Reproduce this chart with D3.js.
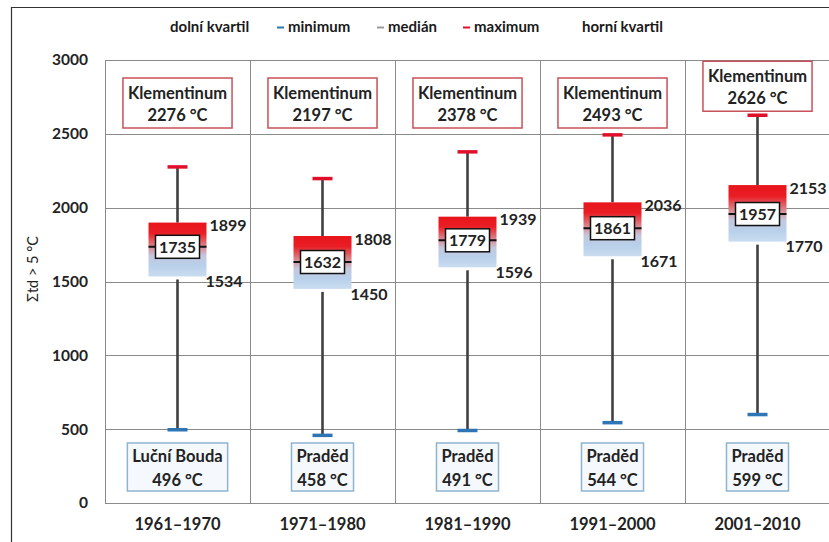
<!DOCTYPE html>
<html><head><meta charset="utf-8">
<script src="https://cdn.jsdelivr.net/npm/d3@7"></script>
<style>
body{margin:0;background:#fff;}
svg{display:block;font-family:Lato,"Open Sans",sans-serif;}
</style></head>
<body><svg id="c" width="829" height="542"></svg>
<script>
const periods = ["1961–1970","1971–1980","1981–1990","1991–2000","2001–2010"];
const minValues = [496,458,491,544,599];
const q1Values = [1534,1450,1596,1671,1770];
const medianValues = [1735,1632,1779,1861,1957];
const q3Values = [1899,1808,1939,2036,2153];
const maxValues = [2276,2197,2378,2493,2626];
const maxStations = ["Klementinum","Klementinum","Klementinum","Klementinum","Klementinum"];
const minStations = ["Luční Bouda","Praděd","Praděd","Praděd","Praděd"];
const yTicks = [0,500,1000,1500,2000,2500,3000];
const legendItems = ["dolní kvartil","minimum","medián","maximum","horní kvartil"];
const yTitle = "Σtd > 5 °C";

const data = periods.map((p,i)=>({p,min:minValues[i],q1:q1Values[i],med:medianValues[i],q3:q3Values[i],max:maxValues[i],maxSt:maxStations[i],minSt:minStations[i]}));

const svg = d3.select("#c");
const L=105,R=830,T=60,B=503;
const x = d3.scaleBand().domain(periods).range([L,R]);
const y = d3.scaleLinear().domain([0,3000]).range([B,T]);

// outer frame
svg.append("path").attr("d",`M11.5,560 V7.5 H840`).attr("fill","none").attr("stroke","#333").attr("stroke-width",1.2);

// gradient
const defs = svg.append("defs");
const g = defs.append("linearGradient").attr("id","bx").attr("x1",0).attr("y1",0).attr("x2",0).attr("y2",1);
[[0,"#e8141b"],[0.2,"#ea1e25"],[0.45,"#d98a92"],[0.62,"#c4c8de"],[0.8,"#b8d0ea"],[1,"#cadcf0"]].forEach(s=>g.append("stop").attr("offset",s[0]).attr("stop-color",s[1]));

// gridlines
svg.append("g").selectAll("line").data(yTicks).join("line")
  .attr("x1",L).attr("x2",R).attr("y1",d=>Math.round(y(d))+0.5).attr("y2",d=>Math.round(y(d))+0.5)
  .attr("stroke","#8a8a8a").attr("stroke-width",1);
svg.append("g").selectAll("line").data(periods).join("line")
  .attr("x1",d=>Math.round(x(d))+0.5).attr("x2",d=>Math.round(x(d))+0.5).attr("y1",T).attr("y2",B)
  .attr("stroke","#8a8a8a").attr("stroke-width",1);

// axes
const ya = svg.append("g").attr("transform",`translate(${L},0)`)
  .call(d3.axisLeft(y).tickValues(yTicks).tickSize(0).tickPadding(17).tickFormat(d3.format("d")));
ya.select(".domain").remove();
ya.selectAll("text").attr("font-size",15.5).attr("font-weight","bold").attr("fill","#222").attr("font-family","Lato,sans-serif");

const xa = svg.append("g").attr("transform",`translate(0,${B})`)
  .call(d3.axisBottom(x).tickSize(0).tickPadding(15));
xa.select(".domain").remove();
xa.selectAll("text").attr("font-size",16.5).attr("font-weight","bold").attr("fill","#222").attr("font-family","Lato,sans-serif");

// y title
svg.append("text").attr("transform","translate(38,269) rotate(-90)").attr("text-anchor","middle")
  .attr("font-size",14.5).attr("fill","#222").text(yTitle);

// legend
const legX = [170,277,377,463,582];
const legColors = [null,"#2e75b6","#9a9a9a","#e0102a",null];
const lg = svg.append("g");
legendItems.forEach((t,i)=>{
  let tx = legX[i];
  if(legColors[i]){
    lg.append("line").attr("x1",tx).attr("x2",tx+7).attr("y1",27.5).attr("y2",27.5).attr("stroke",legColors[i]).attr("stroke-width",2);
    tx += 11;
  }
  lg.append("text").attr("x",tx).attr("y",27).attr("dy","0.35em").attr("font-size",15).attr("font-weight","bold").attr("fill","#1a1a1a").text(t);
});

const bw = 58;
const fs = 16;
const cols = svg.append("g").selectAll("g").data(data).join("g");
cols.each(function(d){
  const gg = d3.select(this);
  const cx = x(d.p)+x.bandwidth()/2;
  // whiskers
  gg.append("line").attr("x1",cx).attr("x2",cx).attr("y1",y(d.max)).attr("y2",y(d.q3)).attr("stroke","#404040").attr("stroke-width",2.6);
  gg.append("line").attr("x1",cx).attr("x2",cx).attr("y1",y(d.q1)+3).attr("y2",y(d.min)).attr("stroke","#404040").attr("stroke-width",2.6);
  // caps
  gg.append("line").attr("x1",cx-10).attr("x2",cx+10).attr("y1",y(d.max)).attr("y2",y(d.max)).attr("stroke","#e0102a").attr("stroke-width",3.5);
  gg.append("line").attr("x1",cx-10).attr("x2",cx+10).attr("y1",y(d.min)).attr("y2",y(d.min)).attr("stroke","#2e75b6").attr("stroke-width",3.5);
  // box
  gg.append("rect").attr("x",cx-bw/2).attr("width",bw).attr("y",y(d.q3)).attr("height",y(d.q1)-y(d.q3)).attr("fill","url(#bx)");
  // median
  const my = y(d.med);
  gg.append("line").attr("x1",cx-bw/2).attr("x2",cx+bw/2).attr("y1",my).attr("y2",my).attr("stroke","#111").attr("stroke-width",2);
  gg.append("rect").attr("x",cx-22).attr("y",my-11.5).attr("width",44).attr("height",23).attr("fill","#fff").attr("stroke","#111").attr("stroke-width",1.5);
  gg.append("text").attr("x",cx).attr("y",my).attr("dy","0.36em").attr("text-anchor","middle").attr("font-size",fs).attr("font-weight","bold").attr("fill","#222").text(d.med);
  // quartile labels
  gg.append("text").attr("x",cx+bw/2+3).attr("y",y(d.q3)+3).attr("dy","0.36em").attr("font-size",fs).attr("font-weight","bold").attr("fill","#222").text(d.q3);
  gg.append("text").attr("x",cx+bw/2-1).attr("y",y(d.q1)+5).attr("dy","0.36em").attr("font-size",fs).attr("font-weight","bold").attr("fill","#222").text(d.q1);
  // max station box
  const bot = Math.min(128, y(d.max)-4);
  const tb = gg.append("g");
  const r1 = tb.append("rect").attr("fill","#fff").attr("stroke","#c8505a").attr("stroke-width",1.5);
  const t1 = tb.append("text").attr("x",cx).attr("y",bot-35).attr("dy","0.36em").attr("text-anchor","middle").attr("font-size",16.5).attr("font-weight","bold").attr("fill","#222").text(d.maxSt);
  tb.append("text").attr("x",cx).attr("y",bot-13).attr("dy","0.36em").attr("text-anchor","middle").attr("font-size",16.5).attr("font-weight","bold").attr("fill","#222").text(d.max+" °C");
  const w1 = t1.node().getComputedTextLength()+10;
  r1.attr("x",cx-w1/2).attr("width",w1).attr("y",bot-50).attr("height",50);
  // min station box
  const bb = gg.append("g");
  const r2 = bb.append("rect").attr("fill","#f5f9fd").attr("stroke","#8eb4cf").attr("stroke-width",1.5);
  const t2 = bb.append("text").attr("x",cx).attr("y",456).attr("dy","0.36em").attr("text-anchor","middle").attr("font-size",16.5).attr("font-weight","bold").attr("fill","#222").text(d.minSt);
  bb.append("text").attr("x",cx).attr("y",480).attr("dy","0.36em").attr("text-anchor","middle").attr("font-size",16.5).attr("font-weight","bold").attr("fill","#222").text(d.min+" °C");
  const w2 = t2.node().getComputedTextLength()+10;
  r2.attr("x",cx-w2/2).attr("width",w2).attr("y",443).attr("height",48);
});
</script></body></html>
